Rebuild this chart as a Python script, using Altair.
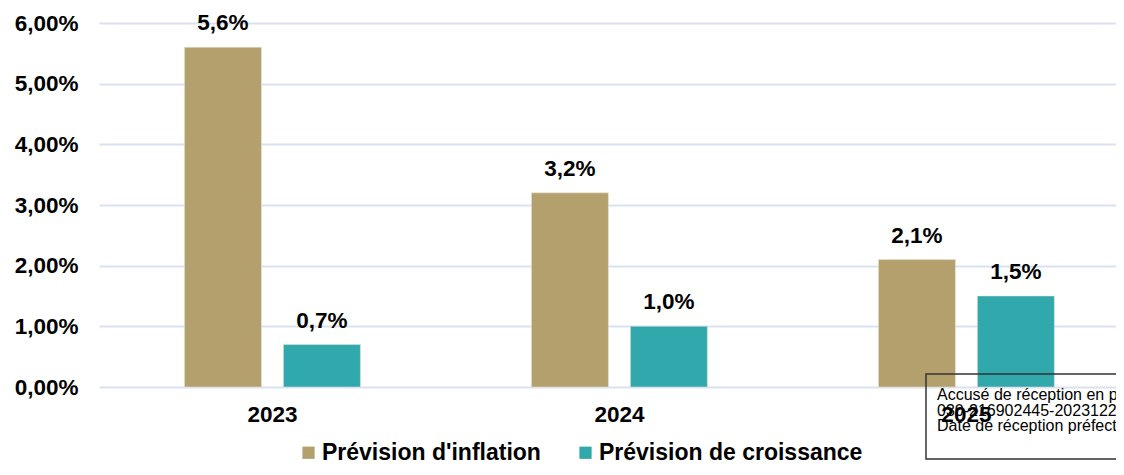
import altair as alt
import pandas as pd

years = ["2023", "2024", "2025"]
series = ["Prévision d'inflation", "Prévision de croissance"]
inflation = [5.6, 3.2, 2.1]
croissance = [0.7, 1.0, 1.5]
y_ticks = [0, 1, 2, 3, 4, 5, 6]
colors = ["#B4A06D", "#31A8AC"]
stamp_lines = ["Accusé de réception en pr", "030-216902445-2023122", "Date de réception préfectu"]

rows = []
for i, yr in enumerate(years):
    rows.append({"annee": yr, "serie": series[0], "valeur": inflation[i]})
    rows.append({"annee": yr, "serie": series[1], "valeur": croissance[i]})
df = pd.DataFrame(rows)
df["label"] = df["valeur"].map(lambda v: f"{v:.1f}".replace(".", ",") + "%")
stamp_df = pd.DataFrame({"texte": ["\n".join(stamp_lines)]})

FONT = "Liberation Sans"
W, H = 1017, 364

x = alt.X("annee:N", sort=years, title=None,
          scale=alt.Scale(paddingInner=0.493, paddingOuter=0.212, align=0.581),
          axis=alt.Axis(labelAngle=0, labelFont=FONT, labelFontSize=22.5, labelFontWeight="bold",
                        labelColor="#000000", labelPadding=16, ticks=False, domain=False, grid=False))
xo = alt.XOffset("serie:N", sort=series, scale=alt.Scale(paddingInner=0.222, paddingOuter=0))
y = alt.Y("valeur:Q", title=None,
          scale=alt.Scale(domain=[0, 6], nice=False),
          axis=alt.Axis(values=y_ticks, labelExpr="replace(format(datum.value, '.2f'), '.', ',') + '%'",
                        labelFont=FONT, labelFontSize=22.5, labelFontWeight="bold", labelColor="#000000",
                        labelPadding=21, ticks=False, domain=False, gridColor="#D9E1F2", gridWidth=2))

color = alt.Color("serie:N", sort=series, scale=alt.Scale(domain=series, range=colors),
                  legend=alt.Legend(title=None, orient="none", direction="horizontal",
                                    legendX=198, legendY=418, symbolType="square", symbolSize=150,
                                    symbolStrokeWidth=0, labelFont=FONT, labelFontSize=23,
                                    labelFontWeight="bold", labelColor="#000000", columnPadding=33,
                                    labelOffset=2, labelLimit=0))

bars = alt.Chart(df).mark_bar(stroke="#E8E4D8", strokeWidth=0.5).encode(x=x, xOffset=xo, y=y, color=color)
labels = alt.Chart(df).mark_text(font=FONT, fontSize=22.5, fontWeight="bold", color="#000000",
                                 baseline="alphabetic", dy=-17).encode(
    x=x, xOffset=xo, y=y, text="label:N")

stamp_box = alt.Chart(stamp_df).mark_rect(fill="white", fillOpacity=0, stroke="#333333", strokeWidth=1.5).encode(
    x=alt.value(827), x2=alt.value(W + 10), y=alt.value(351), y2=alt.value(436))
stamp_txt = alt.Chart(stamp_df).mark_text(
    font=FONT, fontSize=16, color="#000000", align="left", baseline="middle",
    lineBreak="\n", lineHeight=15.5).encode(
    x=alt.value(838), y=alt.value(372), text="texte:N")

chart = alt.layer(bars, labels, stamp_box, stamp_txt).properties(
    width=W, height=H,
    autosize=alt.AutoSizeParams(type="none"),
    padding={"left": 91, "top": 15, "right": 0, "bottom": 73}
).configure(background="white").configure_view(stroke=None)

chart.save("out.html", embed_options={"renderer": "svg", "actions": False})
